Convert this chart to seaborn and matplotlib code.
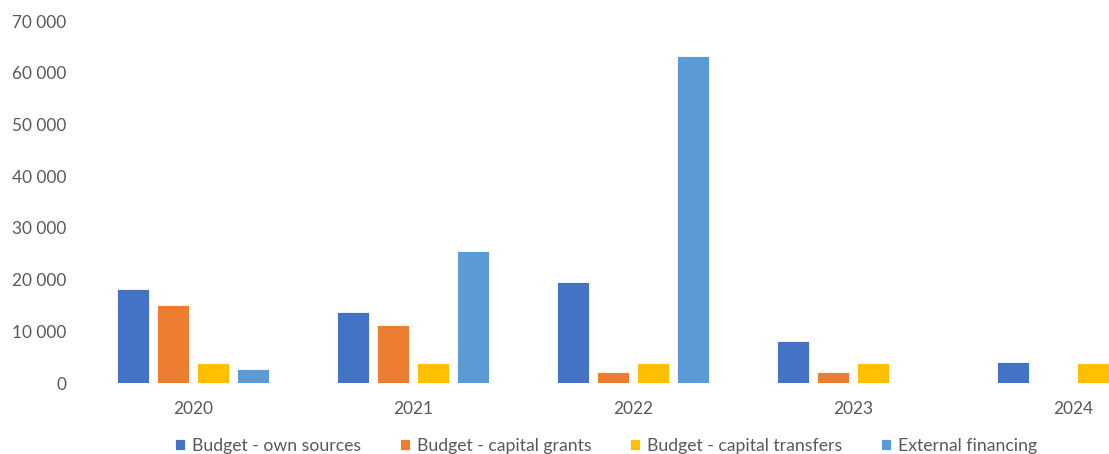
import pandas as pd
import numpy as np
import matplotlib
matplotlib.use("Agg")
import matplotlib.pyplot as plt
import seaborn as sns
from matplotlib.ticker import FuncFormatter

years = ["2020", "2021", "2022", "2023", "2024"]
series = ["Budget - own sources", "Budget - capital grants",
          "Budget - capital transfers", "External financing"]
own_sources = [18200, 13800, 19500, 8100, 4100]
capital_grants = [15100, 11300, 2100, 2100, np.nan]
capital_transfers = [3900, 3900, 3900, 3900, 3900]
external_financing = [2700, 25500, 63300, np.nan, np.nan]
colors = ["#4472C4", "#ED7D31", "#FFC000", "#5B9BD5"]

df = pd.DataFrame({
    "year": years * 4,
    "series": np.repeat(series, len(years)),
    "value": own_sources + capital_grants + capital_transfers + external_financing,
})

sns.set_style("white")
plt.rcParams["font.family"] = ["Lato", "DejaVu Sans"]

fig = plt.figure(figsize=(11.09, 4.54), dpi=100)
ax = fig.add_axes([83 / 1109, 71 / 454, 1100 / 1109, 362 / 454])

sns.barplot(data=df, x="year", y="value", hue="series", hue_order=series,
            palette=colors, saturation=1, width=0.727, gap=0.22, errorbar=None,
            edgecolor="white", linewidth=0.6, ax=ax)

ax.set_ylim(0, 70000)
ax.set_yticks(range(0, 70001, 10000))
ax.yaxis.set_major_formatter(FuncFormatter(lambda v, p: f"{int(v):,}".replace(",", " ")))
ax.set_xlabel("")
ax.set_ylabel("")
ax.tick_params(axis="both", length=0, labelsize=12.4, colors="#595959")
ax.tick_params(axis="y", pad=12)
ax.tick_params(axis="x", pad=13)
sns.despine(ax=ax, left=True, bottom=True)

handles, labels = ax.get_legend_handles_labels()
ax.get_legend().remove()
fig.legend(handles, labels, loc="center", bbox_to_anchor=(606 / 1109, 8 / 454),
           ncol=4, frameon=False, fontsize=12.7, labelcolor="#595959",
           handlelength=0.55, handleheight=0.55, handletextpad=0.4, columnspacing=2.2)

fig.savefig("out.png", dpi=100)
